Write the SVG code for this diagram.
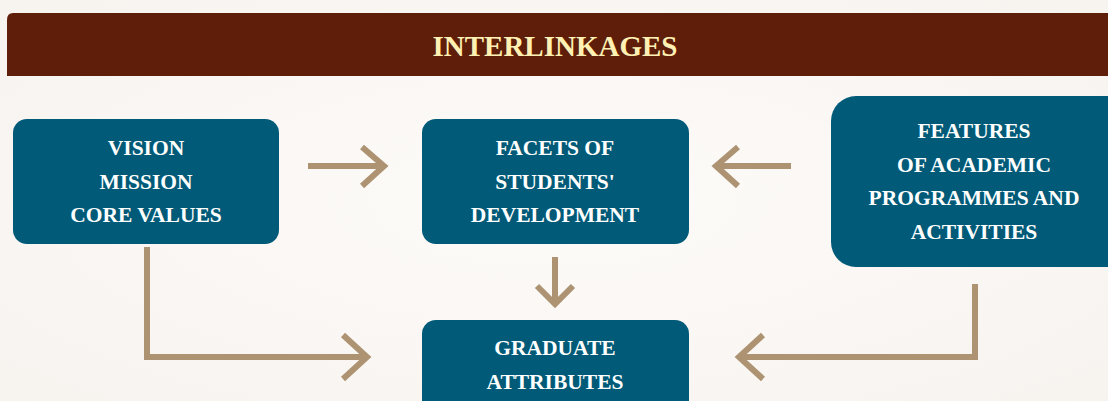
<svg xmlns="http://www.w3.org/2000/svg" width="1108" height="401" viewBox="0 0 1108 401">
<defs>
<radialGradient id="bg" cx="0.5" cy="0.5" r="0.7">
<stop offset="0" stop-color="#fdfbf9"/>
<stop offset="1" stop-color="#f7f3ef"/>
</radialGradient>
<style>
.box{fill:#015a77;}
.t{font-family:"Liberation Serif","Times New Roman",serif;font-weight:bold;font-size:21.5px;fill:#ffffff;text-anchor:middle;}
.hd{font-family:"Liberation Serif","Times New Roman",serif;font-weight:bold;font-size:29px;fill:#fff1b3;text-anchor:middle;}
.c{fill:none;stroke:#ad9372;stroke-width:6;stroke-linejoin:miter;}
</style>
</defs>
<rect width="1108" height="401" fill="url(#bg)"/>
<g id="header">
<path d="M7,20 Q7,13 13,13 L1108,13 L1108,76 L7,76 Z" fill="#5f1e0a"/>
<text class="hd" x="555" y="56">INTERLINKAGES</text>
</g>
<g id="vision">
<rect class="box" x="13" y="119" width="266" height="125" rx="14"/>
<text class="t" x="146" y="155">VISION</text>
<text class="t" x="146" y="189">MISSION</text>
<text class="t" x="146" y="222">CORE VALUES</text>
</g>
<g id="facets">
<rect class="box" x="422" y="119" width="267" height="125" rx="14"/>
<text class="t" x="555" y="155">FACETS OF</text>
<text class="t" x="555" y="189">STUDENTS'</text>
<text class="t" x="555" y="222">DEVELOPMENT</text>
</g>
<g id="features">
<rect class="box" x="831" y="96" width="300" height="171" rx="25"/>
<text class="t" x="974" y="138">FEATURES</text>
<text class="t" x="974" y="172">OF ACADEMIC</text>
<text class="t" x="974" y="205">PROGRAMMES AND</text>
<text class="t" x="974" y="239">ACTIVITIES</text>
</g>
<g id="graduate">
<rect class="box" x="422" y="320" width="267" height="110" rx="14"/>
<text class="t" x="555" y="355">GRADUATE</text>
<text class="t" x="555" y="389">ATTRIBUTES</text>
</g>
<g id="connectors">
<path class="c" d="M308,166 H384 M362,147 L384,166 L362,186"/>
<path class="c" d="M791,166 H715 M738,147 L716,166 L738,186"/>
<path class="c" d="M555,257 V303 M537,286 L555,304 L573,286"/>
<path class="c" d="M147,247 V357 H367 M343,335 L367,357 L343,379"/>
<path class="c" d="M975,284 V357 H738 M763,335 L739,357 L763,379"/>
</g>
</svg>
